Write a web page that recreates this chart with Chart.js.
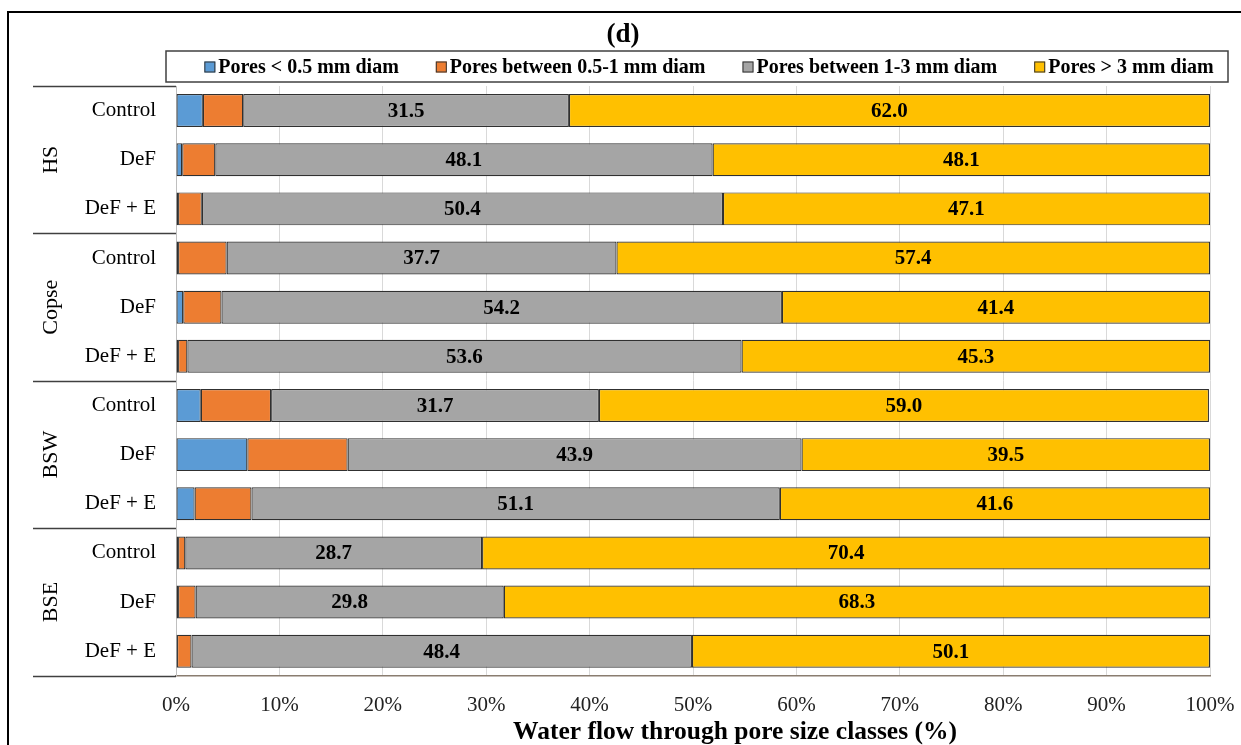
<!DOCTYPE html>
<html>
<head>
<meta charset="utf-8">
<script src="https://cdn.jsdelivr.net/npm/chart.js@4"></script>
<style>
    html, body { margin: 0; padding: 0; background: #fff; }
    #wrap { width: 1241px; height: 745px; }
</style>
</head>
<body>
<div id="wrap"><canvas id="chart"></canvas></div>
<script>
const groups = ['HS', 'Copse', 'BSW', 'BSE'];
const treatments = ['Control', 'DeF', 'DeF + E'];
const seriesNames = ['Pores < 0.5 mm diam', 'Pores between 0.5-1 mm diam', 'Pores between 1-3 mm diam', 'Pores > 3 mm diam'];
const poresSmall = [2.6, 0.6, 0.2, 0.2, 0.7, 0.2, 2.4, 6.9, 1.8, 0.2, 0.2, 0.1];
const poresMid = [3.9, 3.2, 2.3, 4.7, 3.7, 0.9, 6.8, 9.7, 5.5, 0.7, 1.7, 1.4];
const poresLarge = [31.5, 48.1, 50.4, 37.7, 54.2, 53.6, 31.7, 43.9, 51.1, 28.7, 29.8, 48.4];
const poresXL = [62.0, 48.1, 47.1, 57.4, 41.4, 45.3, 59.0, 39.5, 41.6, 70.4, 68.3, 50.1];
const xTicks = [0, 10, 20, 30, 40, 50, 60, 70, 80, 90, 100];
const chartTitle = '(d)';
const xTitle = 'Water flow through pore size classes (%)';

const colors = ['#5B9BD5', '#ED7D31', '#A5A5A5', '#FFC000'];
const serif = "'Liberation Serif', 'Times New Roman', serif";

// one row per group/treatment pair
const rowLabels = [];
groups.forEach(() => treatments.forEach(t => rowLabels.push(t)));

const allSeries = [poresSmall, poresMid, poresLarge, poresXL];

// frame, titles, legend box, group labels, bar labels
const extras = {
    id: 'extras',
    afterDatasetsDraw(chart) {
        const ctx = chart.ctx;
        ctx.save();
        ctx.font = `bold 21px ${serif}`;
        ctx.fillStyle = '#000';
        ctx.textAlign = 'center';
        ctx.textBaseline = 'middle';
        [2, 3].forEach(di => {
            const meta = chart.getDatasetMeta(di);
            meta.data.forEach((bar, i) => {
                const p = bar.getCenterPoint();
                ctx.fillText(chart.data.datasets[di].data[i].toFixed(1), p.x, p.y + 1);
            });
        });
        ctx.restore();
    },
    afterDraw(chart) {
        const ctx = chart.ctx;
        const area = chart.chartArea;
        const y = chart.scales.y;
        ctx.save();

        // outer frame
        ctx.strokeStyle = '#000';
        ctx.lineWidth = 2;
        ctx.strokeRect(8, 12, 1400, 900);

        // titles
        ctx.fillStyle = '#000';
        ctx.textAlign = 'center';
        ctx.textBaseline = 'middle';
        ctx.font = `bold 27px ${serif}`;
        ctx.fillText(chartTitle, 623, 35);
        ctx.font = `bold 25.5px ${serif}`;
        ctx.fillText(xTitle, (area.left + area.right) / 2 + 42, 732);

        // group separators
        ctx.strokeStyle = '#404040';
        ctx.lineWidth = 1.5;
        const bounds = [area.top];
        for (let g = 1; g < groups.length; g++) {
            const k = g * treatments.length;
            bounds.push((y.getPixelForValue(k - 1) + y.getPixelForValue(k)) / 2);
        }
        bounds.push(area.bottom);
        bounds.forEach(b => {
            ctx.beginPath();
            ctx.moveTo(33, Math.round(b) + 0.5);
            ctx.lineTo(area.left, Math.round(b) + 0.5);
            ctx.stroke();
        });

        // group labels, rotated
        ctx.font = `22px ${serif}`;
        groups.forEach((g, gi) => {
            const cy = y.getPixelForValue(gi * treatments.length + 1);
            ctx.save();
            ctx.translate(51, cy);
            ctx.rotate(-Math.PI / 2);
            ctx.fillText(g, 0, 0);
            ctx.restore();
        });

        // legend box
        const lx0 = area.left - 10, lx1 = area.right + 18, ly0 = 51, ly1 = 82;
        ctx.strokeStyle = '#404040';
        ctx.lineWidth = 1.5;
        ctx.strokeRect(lx0, ly0, lx1 - lx0, ly1 - ly0);

        ctx.font = `bold 20px ${serif}`;
        const box = 11, gapText = 3, gap = 37;
        const widths = seriesNames.map(n => box + gapText + ctx.measureText(n).width);
        const total = widths.reduce((a, b) => a + b, 0) + gap * (widths.length - 1);
        let x = (lx0 + lx1) / 2 + 12 - total / 2;
        const cy = (ly0 + ly1) / 2 + 0.5;
        ctx.textAlign = 'left';
        seriesNames.forEach((n, i) => {
            ctx.fillStyle = colors[i];
            ctx.fillRect(x, cy - box / 2, box, box);
            ctx.strokeStyle = '#333';
            ctx.lineWidth = 1;
            ctx.strokeRect(x + 0.5, cy - box / 2 + 0.5, box - 1, box - 1);
            ctx.fillStyle = '#000';
            ctx.fillText(n, x + box + gapText, cy + 1);
            x += widths[i] + gap;
        });

        ctx.restore();
    }
};

new Chart(document.getElementById('chart'), {
    type: 'bar',
    data: {
        labels: rowLabels,
        datasets: allSeries.map((d, i) => ({
            label: seriesNames[i],
            data: d,
            backgroundColor: colors[i],
            borderColor: '#303030',
            borderWidth: 1.2,
            borderSkipped: false,
            barPercentage: 0.67,
            categoryPercentage: 1
        }))
    },
    options: {
        indexAxis: 'y',
        responsive: true,
        maintainAspectRatio: false,
        animation: false,
        layout: { padding: { left: 0, right: 31, top: 86, bottom: 10 } },
        plugins: {
            legend: { display: false },
            tooltip: { enabled: false },
            title: { display: false }
        },
        scales: {
            x: {
                stacked: true,
                min: 0,
                max: 100,
                afterBuildTicks: scale => { scale.ticks = xTicks.map(v => ({ value: v })); },
                afterFit: scale => { scale.paddingLeft = 0; scale.paddingRight = 0; },
                ticks: {
                    callback: v => v + '%',
                    color: '#222',
                    font: { family: serif, size: 21 },
                    padding: 17,
                    maxRotation: 0
                },
                grid: { color: '#d9d9d9', drawTicks: false },
                border: { color: '#8a7d70', width: 1.5 }
            },
            y: {
                stacked: true,
                afterFit: scale => { scale.width = 176; },
                ticks: {
                    color: '#000',
                    font: { family: serif, size: 21 },
                    padding: 20,
                    autoSkip: false
                },
                grid: { display: false, drawTicks: false },
                border: { color: '#bfbfbf' }
            }
        }
    },
    plugins: [extras]
});
</script>
</body>
</html>
